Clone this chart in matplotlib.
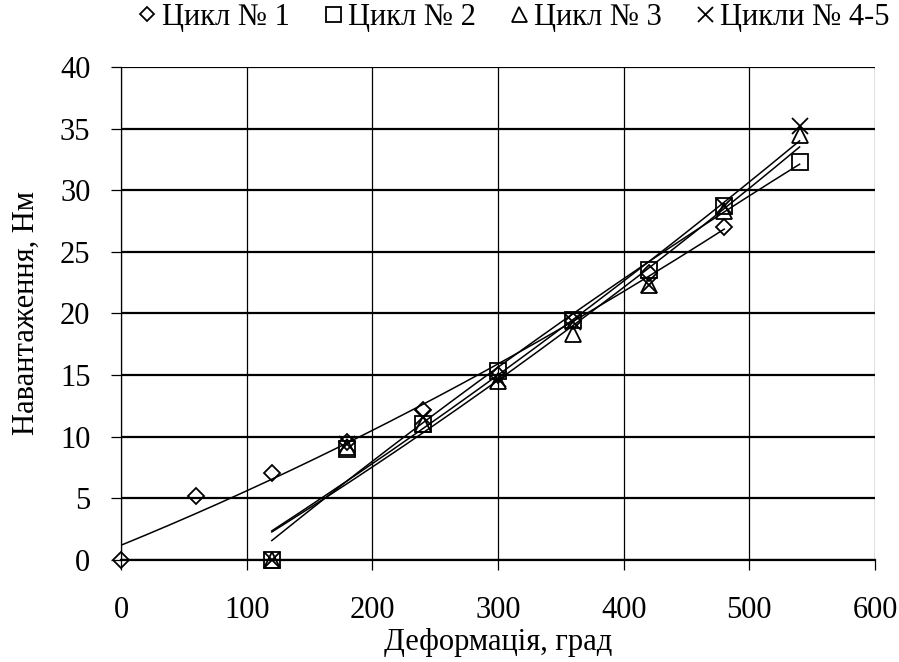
import numpy as np
import matplotlib
matplotlib.use("Agg")
import matplotlib.pyplot as plt

plt.rcParams['font.family'] = ['Liberation Serif', 'DejaVu Serif']
plt.rcParams['font.size'] = 22

# data
x1 = [0, 60, 120, 180, 240, 300, 360, 420, 480]
y1 = [0, 5.2, 7.1, 9.6, 12.2, 15.0, 19.4, 23.3, 27.0]

x_rest = [120, 180, 240, 300, 360, 420, 480, 540]
y2 = [0, 9.0, 11.0, 15.3, 19.5, 23.5, 28.7, 32.3]
y3 = [0, 9.2, 11.0, 14.5, 18.3, 22.3, 28.3, 34.5]
y45 = [0, 9.4, 11.6, 14.7, 19.3, 22.3, 28.7, 35.2]

labels = ['Цикл № 1', 'Цикл № 2', 'Цикл № 3', 'Цикли № 4-5']
markers = ['D', 's', '^', 'x']
msizes = [8, 12, 12, 12]

fig = plt.figure(figsize=(8.99, 6.62), dpi=100)
ax = fig.add_axes([0.1346, 0.154, 0.8387, 0.745])

series = [(x1, y1), (x_rest, y2), (x_rest, y3), (x_rest, y45)]
handles = []
for (xs, ys), lab, m, ms in zip(series, labels, markers, msizes):
    xs = np.array(xs, dtype=float)
    ys = np.array(ys, dtype=float)
    # excel-style polynomial trend line (order 2)
    c = np.polyfit(xs, ys, 2)
    xx = np.linspace(xs.min(), xs.max(), 200)
    ax.plot(xx, np.polyval(c, xx), color='black', lw=1.1, zorder=2)
    if m == 'x':
        h, = ax.plot(xs, ys, ls='none', marker=m, ms=ms, mew=1.3, color='black',
                     label=lab, zorder=3, clip_on=False)
    else:
        h, = ax.plot(xs, ys, ls='none', marker=m, ms=ms, mew=1.3, mfc='none',
                     mec='black', label=lab, zorder=3, clip_on=False)
    handles.append(h)

ax.set_xlim(0, 600)
ax.set_ylim(0, 40)
ax.set_xticks(range(0, 601, 100))
ax.set_yticks(range(0, 41, 5))
ax.yaxis.grid(True, color='black', lw=1.6)
ax.xaxis.grid(True, color='black', lw=0.9)
ax.set_axisbelow(True)
for s in ['top', 'right']:
    ax.spines[s].set_visible(False)
ax.spines['left'].set_linewidth(0.9)
ax.spines['bottom'].set_linewidth(1.6)
ax.tick_params(direction='out', length=7, width=0.9)
ax.tick_params(axis='y', pad=15)
ax.tick_params(axis='x', pad=19)
ax.set_xlabel('Деформація, град', labelpad=2)
ax.set_ylabel('Навантаження, Нм', labelpad=14)

fig.legend(handles=handles, loc='center', bbox_to_anchor=(0.568, 0.974), ncol=4,
           frameon=False, handletextpad=0.0, columnspacing=0.9,
           handlelength=1.0, markerscale=0.9)

fig.savefig('out.png', dpi=100)
